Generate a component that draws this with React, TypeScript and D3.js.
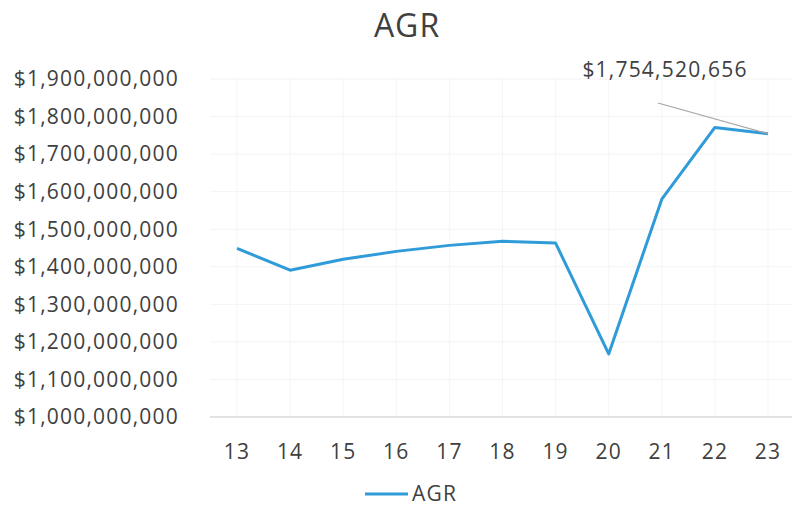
import React from 'react';
import * as d3 from 'd3';

const years = ['13', '14', '15', '16', '17', '18', '19', '20', '21', '22', '23'];
const agr = [
  1449000000, 1391000000, 1420000000, 1441000000, 1457000000, 1468000000,
  1463000000, 1168000000, 1580000000, 1771000000, 1754520656,
];
const yTicks = [
  1000000000, 1100000000, 1200000000, 1300000000, 1400000000, 1500000000,
  1600000000, 1700000000, 1800000000, 1900000000,
];

const W = 792;
const H = 510;
const FONT = "'Open Sans', 'Noto Sans', sans-serif";
const TEXT = '#404040';
const LINE = '#2f9bd8';
const LS = 1.2;

const App: React.FC = () => {
  const x = d3.scalePoint<string>().domain(years).range([237, 768]);
  const y = d3.scaleLinear().domain([1000000000, 1900000000]).range([417, 79]);

  const line = d3
    .line<number>()
    .x((d, i) => x(years[i]) || 0)
    .y(d => y(d));

  const fmt = (v: number) => '$' + d3.format(',')(v);

  const last = agr.length - 1;
  const lx = x(years[last]) || 0;
  const ly = y(agr[last]);

  return (
    <div style={{ position: 'fixed', left: 0, top: 0 }}>
      <svg width={W} height={H} style={{ display: 'block', background: '#fff' }} fontFamily={FONT}>
        <text x={407} y={37} textAnchor="middle" fontSize={32} fill={TEXT} letterSpacing={1}>
          AGR
        </text>

        {/* faint grid */}
        {yTicks.slice(1).map(t => (
          <line key={t} x1={210} x2={795} y1={y(t)} y2={y(t)} stroke="#f3f3f3" strokeWidth={1} />
        ))}
        {years.map(c => (
          <line key={c} x1={x(c)} x2={x(c)} y1={79} y2={417} stroke="#f5f5f5" strokeWidth={1} />
        ))}
        <line x1={210} x2={795} y1={y(1000000000)} y2={y(1000000000)} stroke="#d9d9d9" strokeWidth={1.5} />

        {yTicks.map(t => (
          <text key={t} x={179} y={y(t)} dy="0.35em" textAnchor="end" fontSize={21} fill={TEXT} letterSpacing={LS}>
            {fmt(t)}
          </text>
        ))}
        {years.map(c => (
          <text key={c} x={x(c)} y={452} dy="0.35em" textAnchor="middle" fontSize={21} fill={TEXT} letterSpacing={LS}>
            {c}
          </text>
        ))}

        <path d={line(agr) || ''} fill="none" stroke={LINE} strokeWidth={3} strokeLinejoin="round" />

        {/* data label with leader line */}
        <line x1={658} y1={103} x2={lx} y2={ly} stroke="#a6a6a6" strokeWidth={1.2} />
        <text x={665} y={70} dy="0.35em" textAnchor="middle" fontSize={21} fill={TEXT} letterSpacing={LS}>
          {fmt(agr[last])}
        </text>

        {/* legend */}
        <line x1={365} x2={408} y1={494} y2={494} stroke={LINE} strokeWidth={3} />
        <text x={412} y={494} dy="0.35em" fontSize={21} fill={TEXT} letterSpacing={LS}>
          AGR
        </text>
      </svg>
    </div>
  );
};

export default App;
